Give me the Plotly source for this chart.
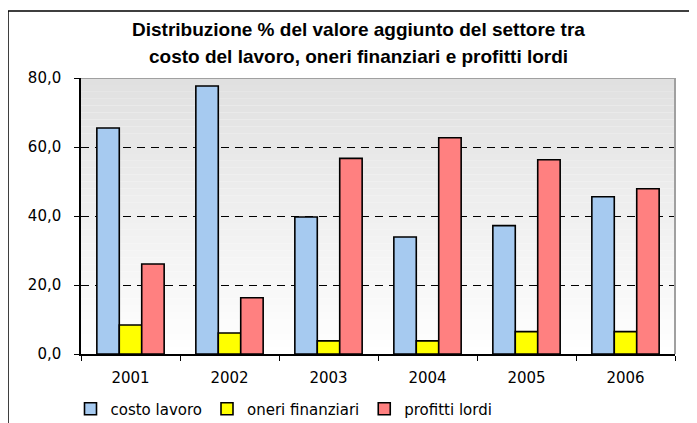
import plotly.graph_objects as go

years = ["2001", "2002", "2003", "2004", "2005", "2006"]
costo_lavoro = [65.5, 77.7, 39.7, 33.9, 37.2, 45.6]
oneri_finanziari = [8.4, 6.1, 3.8, 3.8, 6.5, 6.5]
profitti_lordi = [26.1, 16.3, 56.7, 62.7, 56.3, 47.9]
series_names = ["costo lavoro", "oneri finanziari", "profitti lordi"]
title_lines = ["Distribuzione % del valore aggiunto del settore tra",
               "costo del lavoro, oneri finanziari e profitti lordi"]

W, H = 697, 423
OFF = 8  # page body offset
L, R, T, B = 81 - OFF, W - (675 - OFF), 78 - OFF, H - (354 - OFF)
pw, ph = W - L - R, H - T - B

def px_x(p):
    return (p - OFF - L) / pw

def px_y(p):
    return (H - B - (p - OFF)) / ph

colors = ["#a6caf0", "#ffff00", "#ff8080"]
fig = go.Figure()
for name, vals, col in zip(series_names, [costo_lavoro, oneri_finanziari, profitti_lordi], colors):
    fig.add_trace(go.Bar(x=years, y=vals, name=name,
                         marker=dict(color=col, line=dict(color="black", width=1.6))))

shapes = []
# gradient background bands
n = 40
for i in range(n):
    y0 = 80 * i / n
    y1 = 80 * (i + 1) / n
    f = (i + 0.5) / n  # 0 bottom -> 1 top
    c = int(round(255 - (255 - 224) * f))
    shapes.append(dict(type="rect", xref="x domain", yref="y", x0=0, x1=1, y0=y0, y1=y1,
                       fillcolor=f"rgb({c},{c},{c})", line=dict(width=0), layer="below"))
# plot area border (top/right gray)
shapes.append(dict(type="line", xref="x domain", yref="y", x0=0, x1=1, y0=80, y1=80,
                   line=dict(color="#a0a0a0", width=2)))
shapes.append(dict(type="line", xref="x domain", yref="y", x0=1, x1=1, y0=0, y1=80,
                   line=dict(color="#a0a0a0", width=2)))
# chart frame
shapes.append(dict(type="rect", xref="paper", yref="paper",
                   x0=px_x(8), x1=px_x(740), y0=px_y(460), y1=px_y(11),
                   line=dict(color="black", width=1.5), fillcolor="rgba(0,0,0,0)"))

annotations = [
    dict(text=f"<b>{title_lines[0]}</b>", xref="paper", yref="paper", x=px_x(358), y=px_y(30),
         showarrow=False, xanchor="center", yanchor="middle",
         font=dict(family="Liberation Sans, Arial", size=19, color="black")),
    dict(text=f"<b>{title_lines[1]}</b>", xref="paper", yref="paper", x=px_x(358), y=px_y(56),
         showarrow=False, xanchor="center", yanchor="middle",
         font=dict(family="Liberation Sans, Arial", size=19, color="black")),
]

fig.update_layout(
    width=W, height=H,
    margin=dict(l=L, r=R, t=T, b=B, autoexpand=False),
    paper_bgcolor="white", plot_bgcolor="white",
    separators=",.",
    barmode="group", bargap=0.32, bargroupgap=0,
    shapes=shapes, annotations=annotations,
    font=dict(family="DejaVu Sans", size=15, color="black"),
    legend=dict(orientation="h", x=px_x(284), xanchor="center", y=px_y(409), yanchor="middle",
                font=dict(family="DejaVu Sans", size=15), bgcolor="rgba(0,0,0,0)",
                itemclick=False),
    showlegend=True,
)
fig.update_xaxes(type="category", showline=True, linecolor="black", linewidth=1.5,
                 ticks="outside", tickson="boundaries", ticklen=5, tickcolor="black",
                 showgrid=False, ticklabelstandoff=9)
fig.update_yaxes(range=[0, 80], dtick=20, tickformat=".1f", showline=True, linecolor="black",
                 linewidth=1.5, ticks="outside", ticklen=5, tickcolor="black",
                 showgrid=True, gridcolor="black", griddash="8px,6px", gridwidth=1,
                 zeroline=False, ticklabelstandoff=10)

fig.write_html("out.html")
